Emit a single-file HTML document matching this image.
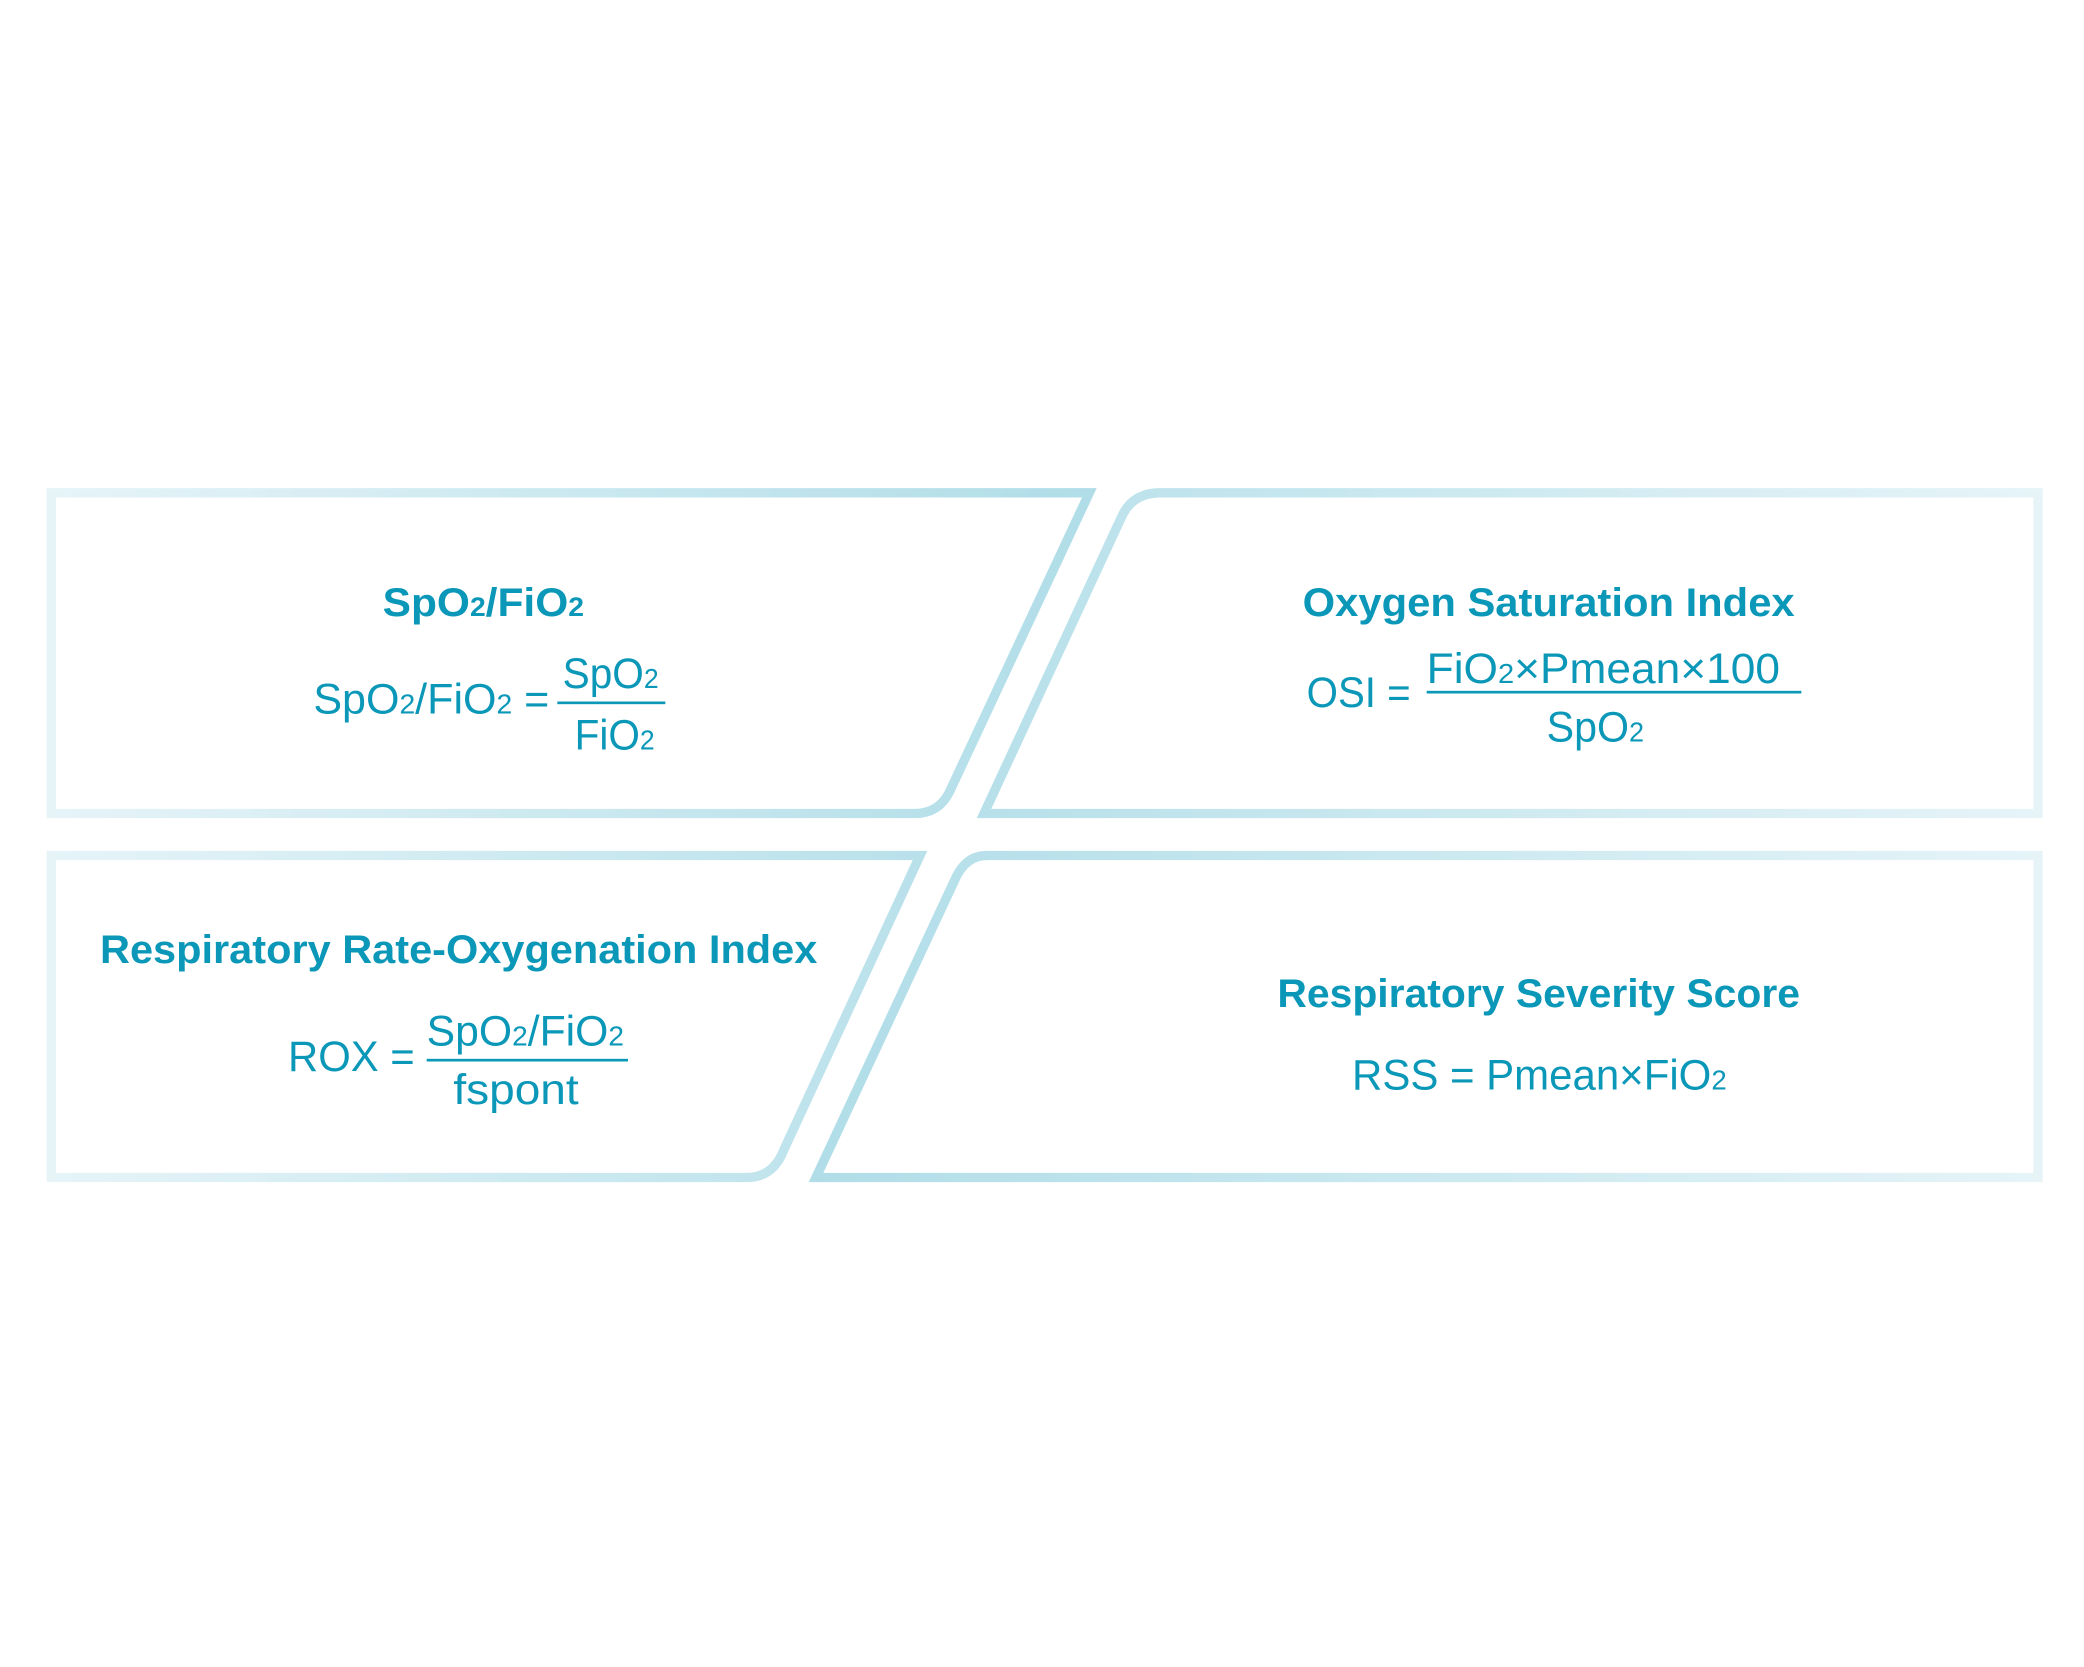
<!DOCTYPE html>
<html><head><meta charset="utf-8"><style>html,body{margin:0;padding:0;background:#fff}svg{display:block}</style></head>
<body>
<svg width="2084" height="1667" viewBox="0 0 1563 1250" xmlns="http://www.w3.org/2000/svg">
<defs>
<linearGradient id="gL" gradientUnits="userSpaceOnUse" x1="35" y1="0" x2="820" y2="0"><stop offset="0" stop-color="#e6f4f8"/><stop offset="1" stop-color="#b0dde8"/></linearGradient>
<linearGradient id="gR" gradientUnits="userSpaceOnUse" x1="610" y1="0" x2="1532" y2="0"><stop offset="0" stop-color="#b0dde8"/><stop offset="1" stop-color="#e6f4f8"/></linearGradient>
</defs>
<g fill="none" stroke-width="7" stroke-linejoin="miter">
<path d="M38.5 369.5 H817 L712 594 Q704 610 686 610 H38.5 Z" stroke="url(#gL)"/>
<path d="M870 369.5 H1528.5 V610 H738 L841 388 Q849 369.5 870 369.5 Z" stroke="url(#gR)"/>
<path d="M38.5 641.5 H690 L588 862 Q580 883 560 883 H38.5 Z" stroke="url(#gL)"/>
<path d="M740 641.5 H1528.5 V883 H612 L716 660 Q724 641.5 740 641.5 Z" stroke="url(#gR)"/>
</g>
<g fill="#0a97b8" font-family="Liberation Sans, sans-serif">
<g font-weight="bold" font-size="30">
<text x="287" y="462" textLength="151" lengthAdjust="spacingAndGlyphs">SpO<tspan font-size="20">2</tspan>/FiO<tspan font-size="20">2</tspan></text>
<text x="977" y="462" textLength="369" lengthAdjust="spacingAndGlyphs">Oxygen Saturation Index</text>
<text x="75" y="722" textLength="538" lengthAdjust="spacingAndGlyphs">Respiratory Rate-Oxygenation Index</text>
<text x="958" y="755" textLength="392" lengthAdjust="spacingAndGlyphs">Respiratory Severity Score</text>
</g>
<g font-size="32">
<text x="235" y="535" textLength="177" lengthAdjust="spacingAndGlyphs">SpO<tspan font-size="21">2</tspan>/FiO<tspan font-size="21">2</tspan> =</text>
<text x="422" y="516" textLength="72" lengthAdjust="spacingAndGlyphs">SpO<tspan font-size="21">2</tspan></text>
<text x="431" y="562" textLength="60" lengthAdjust="spacingAndGlyphs">FiO<tspan font-size="21">2</tspan></text>
<text x="980" y="530" textLength="78" lengthAdjust="spacingAndGlyphs">OSI =</text>
<text x="1070" y="512" textLength="265" lengthAdjust="spacingAndGlyphs">FiO<tspan font-size="21">2</tspan>×Pmean×100</text>
<text x="1160" y="556" textLength="73" lengthAdjust="spacingAndGlyphs">SpO<tspan font-size="21">2</tspan></text>
<text x="216" y="803" textLength="95" lengthAdjust="spacingAndGlyphs">ROX =</text>
<text x="320" y="784" textLength="148" lengthAdjust="spacingAndGlyphs">SpO<tspan font-size="21">2</tspan>/FiO<tspan font-size="21">2</tspan></text>
<text x="340" y="828" textLength="94" lengthAdjust="spacingAndGlyphs">fspont</text>
<text x="1014" y="817" textLength="281" lengthAdjust="spacingAndGlyphs">RSS = Pmean×FiO<tspan font-size="21">2</tspan></text>
</g>
<rect x="418" y="526" width="81" height="2"/>
<rect x="1070" y="518" width="281" height="2"/>
<rect x="320" y="794" width="151" height="2"/>
</g>
</svg>
</body></html>
